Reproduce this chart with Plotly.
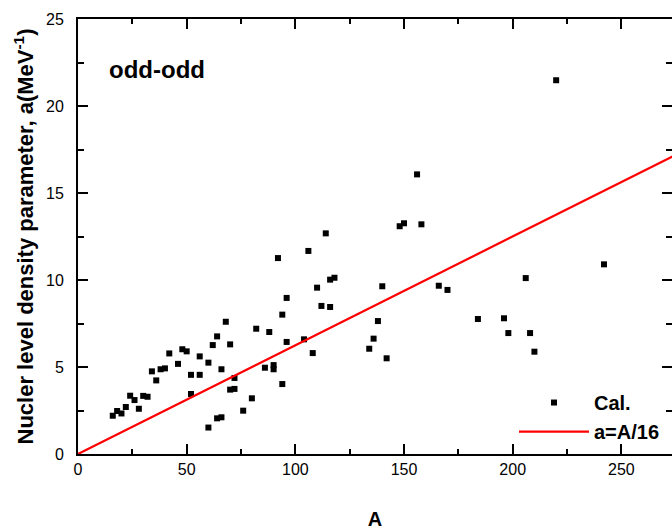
import plotly.graph_objects as go

# Calculated level density parameters (odd-odd nuclei)
mass_A = [16, 18, 20, 22, 24, 26, 28, 30, 32, 34, 36, 38, 40, 42, 46, 48, 50,
          52, 52, 56, 56, 60, 60, 62, 64, 64, 66, 66, 68, 70, 70, 72, 72, 76,
          80, 82, 86, 88, 90, 90, 92, 94, 94, 96, 96, 104, 106, 108, 110, 112,
          114, 116, 116, 118, 134, 136, 138, 140, 142, 148, 150, 156, 158, 166,
          170, 184, 196, 198, 206, 208, 210, 220, 242]
level_a = [2.20, 2.47, 2.33, 2.70, 3.35, 3.10, 2.60, 3.34, 3.29, 4.75, 4.23,
           4.87, 4.92, 5.78, 5.18, 6.02, 5.90, 4.55, 3.45, 5.61, 4.55, 1.52,
           5.25, 6.26, 6.76, 2.05, 2.11, 4.87, 7.60, 6.30, 3.70, 3.74, 4.37,
           2.49, 3.20, 7.20, 4.96, 7.01, 5.11, 4.87, 11.26, 8.01, 4.02, 8.97,
           6.44, 6.59, 11.67, 5.80, 9.56, 8.51, 12.68, 10.02, 8.45, 10.13,
           6.05, 6.63, 7.64, 9.64, 5.50, 13.09, 13.26, 16.07, 13.20, 9.67,
           9.43, 7.76, 7.80, 6.95, 10.11, 6.95, 5.88, 21.48, 10.90]

# Systematics a = A/16
line_A = [0, 280]
line_a = [v / 16 for v in line_A]

x_ticks = [0, 50, 100, 150, 200, 250]
y_ticks = [0, 5, 10, 15, 20, 25]

FONT = "Liberation Sans, Arial, sans-serif"

fig = go.Figure()
fig.add_trace(go.Scatter(
    x=mass_A, y=level_a, mode="markers", name="Cal.",
    marker=dict(symbol="square", size=6, color="black"),
))
fig.add_trace(go.Scatter(
    x=line_A, y=line_a, mode="lines", name="a=A/16",
    line=dict(color="#ff0000", width=2.2),
))
# helper for right-side mirrored ticks (no spine visible)
fig.add_trace(go.Scatter(x=[None], y=[None], yaxis="y2", showlegend=False,
                         hoverinfo="skip"))

axis_common = dict(
    showgrid=False, zeroline=False,
    ticks="inside", ticklen=10, tickwidth=2, tickcolor="black",
    tickfont=dict(family=FONT, size=16, color="black"),
)

fig.update_layout(
    width=672, height=531,
    margin=dict(l=78, r=0, t=19, b=77),
    paper_bgcolor="white", plot_bgcolor="white",
    font=dict(family=FONT, color="black"),
    xaxis=dict(
        range=[0, 273.3], tickmode="array", tickvals=x_ticks,
        showline=True, linewidth=2, linecolor="black", mirror="ticks",
        minor=dict(dtick=25, tick0=0, ticks="inside", ticklen=5,
                   tickwidth=1.5, tickcolor="black"),
        ticklabelstandoff=0,
        title=dict(text="A", font=dict(family=FONT, size=20, weight="bold"),
                   standoff=35),
        automargin=False,
        **axis_common,
    ),
    yaxis=dict(
        range=[0, 25], tickmode="array", tickvals=y_ticks,
        showline=True, linewidth=2, linecolor="black",
        minor=dict(dtick=2.5, tick0=0, ticks="inside", ticklen=6,
                   tickwidth=1.5, tickcolor="black"),
        ticklabelstandoff=9,
        title=dict(text="Nucler level density parameter, a(MeV<sup>-1</sup>)",
                   font=dict(family=FONT, size=22, weight="bold"),
                   standoff=6),
        automargin=False,
        **axis_common,
    ),
    yaxis2=dict(
        overlaying="y", side="right", range=[0, 25],
        tickmode="array", tickvals=y_ticks, showticklabels=False,
        showline=False, showgrid=False, zeroline=False,
        ticks="inside", ticklen=10, tickwidth=2, tickcolor="black",
        minor=dict(dtick=2.5, tick0=0, ticks="inside", ticklen=6,
                   tickwidth=1.5, tickcolor="black"),
        automargin=False,
    ),
    legend=dict(
        x=0.734, y=0.085, xanchor="left", yanchor="middle",
        bgcolor="rgba(0,0,0,0)", borderwidth=0,
        itemwidth=70,
        font=dict(family=FONT, size=20, weight="bold", color="black"),
    ),
    annotations=[dict(
        text="odd-odd", xref="paper", yref="paper",
        x=0.048, y=0.8837, xanchor="left", yanchor="middle",
        showarrow=False,
        font=dict(family=FONT, size=24, weight="bold", color="black"),
    )],
)

# remove the default page margin so the figure fills the window exactly
fig.write_html(
    "out.html",
    config={"displayModeBar": False},
    post_script="document.body.style.margin='0px';"
                "document.body.style.overflow='hidden';",
)
